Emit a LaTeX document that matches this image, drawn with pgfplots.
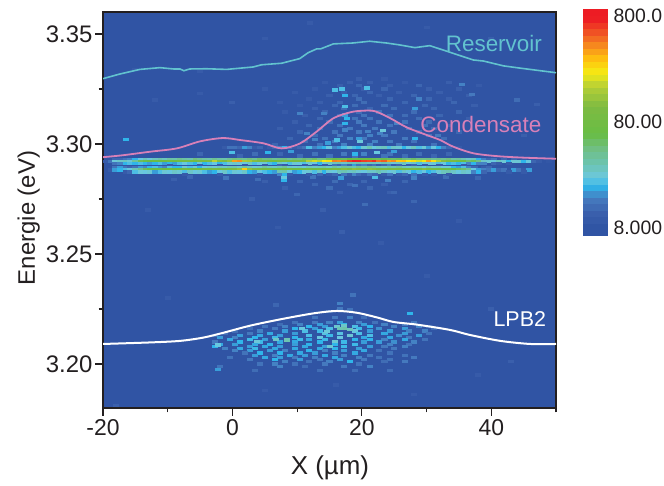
\documentclass[border=0pt]{standalone}
\usepackage{fontspec}
\setmainfont{Liberation Sans}
\usepackage{pgfplots}
\usepackage{pgfplotstable}
\pgfplotsset{compat=1.18}
\definecolor{axisdark}{HTML}{231F20}
\definecolor{bgblue}{HTML}{3054A4}
\definecolor{resv}{HTML}{62C3CF}
\definecolor{cond}{HTML}{D880B8}
\pgfplotsset{
 colormap={origin}{
  rgb255(0)=(48,84,164) rgb255(4)=(48,84,164) rgb255(10)=(58,95,172) rgb255(17)=(70,125,192) rgb255(22)=(47,181,234)
  rgb255(26)=(108,200,222) rgb255(32)=(108,196,176) rgb255(39)=(112,191,128) rgb255(45)=(104,189,69)
  rgb255(57)=(125,187,66) rgb255(66)=(181,207,54) rgb255(72)=(244,235,20) rgb255(78)=(255,194,14)
  rgb255(83)=(247,148,29) rgb255(89)=(241,90,36) rgb255(96)=(237,28,36) rgb255(100)=(237,28,36)},
 cell/.style={only marks, scatter, mark=square*, mark size=1.15bp,
  mark options={xscale=2.2,line width=0pt},
  scatter/use mapped color={draw=mapped color,fill=mapped color},
  restrict expr to domain={\thisrow{#1}}{8.5:2000},
  point meta={log10(\thisrow{#1})}},
}
\pgfplotstableread{
x g a b c h d e f i
-19.6 8 8 10 8 8 8 8 8 8
-18.8 8 8 14 8 8 8 10 8 8
-18.1 8 12 25 14 8 14 18 8 8
-17.3 8 12 28 16 8 18 20 8 8
-16.5 8 14 30 20 8 14 22 10 8
-15.8 8 16 26 22 8 12 24 12 8
-15.0 8 20 38 20 8 14 32 22 8
-14.2 8 24 55 22 8 18 42 25 8
-13.4 8 30 60 20 8 16 55 24 8
-12.7 8 26 62 18 8 20 60 26 8
-11.9 8 30 70 20 8 22 62 18 8
-11.1 8 34 65 22 8 18 60 22 8
-10.4 8 30 72 18 8 16 65 26 8
-9.6 8 36 78 20 10 22 70 24 8
-8.8 8 34 70 18 8 20 62 28 8
-8.1 8 40 80 22 8 20 70 26 8
-7.3 8 36 85 24 8 26 80 22 10
-6.5 8 34 90 22 8 22 75 28 8
-5.7 8 46 85 20 8 26 72 24 8
-5.0 8 40 95 24 10 20 80 26 8
-4.2 8 36 100 20 8 24 85 22 8
-3.4 8 34 110 22 8 28 78 18 8
-2.7 8 40 180 24 8 26 90 20 8
-1.9 8 36 120 20 10 30 85 24 10
-1.1 10 34 110 22 8 28 80 28 8
-0.4 14 40 130 26 8 32 95 22 8
0.4 14 46 380 28 8 32 110 26 8
1.2 12 44 420 26 8 28 130 24 8
1.9 18 40 160 24 10 36 300 28 8
2.7 16 46 150 28 8 30 130 20 8
3.5 10 40 120 22 8 26 100 18 8
4.2 12 50 110 24 8 28 90 24 10
5.0 8 44 105 26 10 36 80 22 8
5.8 10 46 90 22 8 30 85 20 8
6.6 12 40 85 20 8 28 70 18 8
7.3 16 44 90 28 12 32 75 32 16
8.1 20 46 95 24 10 38 80 34 20
8.9 14 40 100 22 8 28 85 24 10
9.6 10 46 95 26 8 26 70 18 8
10.4 12 44 100 24 8 28 75 20 8
11.2 14 50 110 22 10 24 72 24 8
11.9 22 46 170 26 8 30 80 26 10
12.7 16 52 200 24 12 28 70 22 8
13.5 18 44 180 20 8 30 85 28 12
14.3 20 46 240 26 10 32 78 20 8
15.0 24 55 260 28 8 28 90 26 10
15.8 16 60 450 30 14 36 110 24 12
16.6 18 58 420 32 12 30 100 30 8
17.3 22 55 500 28 16 38 120 32 14
18.1 26 62 650 32 12 36 110 28 10
18.9 22 60 780 30 18 32 130 30 16
19.6 20 65 740 34 14 40 120 26 12
20.4 26 68 640 32 16 36 115 24 10
21.2 32 62 600 30 12 42 130 28 14
22.0 24 58 700 30 14 38 120 28 12
22.7 28 55 480 28 10 32 100 32 8
23.5 30 60 540 32 12 30 110 28 10
24.3 22 55 380 30 16 36 95 24 14
25.0 28 52 420 26 10 32 105 26 8
25.8 26 55 300 28 12 38 100 22 10
26.6 20 48 320 30 8 30 90 28 12
27.3 24 46 240 24 10 28 95 24 8
28.1 30 52 260 28 12 32 105 20 14
28.9 22 46 200 22 8 30 85 22 8
29.7 26 44 230 26 10 24 120 24 10
30.4 18 46 380 24 8 34 100 20 8
31.2 24 40 260 26 8 28 90 22 10
32.0 20 44 170 22 10 30 80 26 8
32.7 16 40 120 24 8 24 70 30 8
33.5 12 46 110 20 8 26 60 32 10
34.3 8 36 105 22 8 20 62 28 8
35.0 10 38 85 20 8 18 55 24 8
35.8 8 32 75 22 10 22 50 28 8
36.6 8 28 50 16 8 16 40 26 8
37.4 8 30 55 20 8 12 24 16 8
38.1 8 20 45 16 8 8 18 20 8
38.9 8 16 28 16 8 10 16 12 8
39.7 8 12 26 8 8 12 14 8 8
40.4 8 14 24 12 8 8 18 8 8
41.2 8 8 30 10 8 8 12 8 8
42.0 8 12 26 8 8 8 14 8 8
42.7 8 8 20 10 8 8 8 10 8
43.5 8 12 26 8 8 8 18 8 8
44.3 8 8 26 8 8 8 14 8 8
45.1 8 10 20 8 8 8 10 10 8
45.8 8 8 24 8 8 8 18 8 8
46.6 8 8 12 8 8 8 8 8 8
47.4 8 8 10 8 8 8 8 8 8
48.1 8 8 8 8 8 8 8 8 8
48.9 8 8 9 8 8 8 8 8 8
49.7 8 8 8 8 8 8 8 8 8
}\band
\pgfplotstableread{
x y v
12.7 3.221 14
15.8 3.221 15
18.1 3.221 16
20.4 3.221 13
9.6 3.219 14
12.7 3.219 15
15.0 3.219 16
16.6 3.219 18
19.6 3.219 16
22.0 3.219 14
28.1 3.219 15
7.3 3.218 13
10.4 3.218 16
13.5 3.218 18
17.3 3.218 20
20.4 3.218 18
23.5 3.218 16
26.6 3.218 15
5.0 3.217 14
8.1 3.217 16
11.9 3.217 20
14.3 3.217 18
18.9 3.217 22
21.2 3.217 20
25.0 3.217 16
28.9 3.217 16
30.4 3.217 13
2.7 3.216 13
6.6 3.216 15
9.6 3.216 20
12.7 3.216 18
15.0 3.216 22
19.6 3.216 21
22.7 3.216 17
26.6 3.216 18
31.2 3.216 13
0.4 3.215 13
4.2 3.215 16
8.1 3.215 18
11.2 3.215 22
13.5 3.215 21
18.9 3.215 24
21.2 3.215 18
24.3 3.215 18
27.3 3.215 16
29.7 3.215 16
-1.1 3.214 13
2.7 3.214 15
5.8 3.214 19
9.6 3.214 18
14.3 3.214 23
16.6 3.214 23
19.6 3.214 22
23.5 3.214 19
26.6 3.214 18
30.4 3.214 14
-2.7 3.213 14
1.2 3.213 18
4.2 3.213 19
7.3 3.213 18
11.9 3.213 22
15.0 3.213 21
18.1 3.213 26
21.2 3.213 22
25.8 3.213 17
28.9 3.213 18
-1.9 3.212 18
0.4 3.212 16
3.5 3.212 20
6.6 3.212 21
9.6 3.212 20
13.5 3.212 24
16.6 3.212 24
20.4 3.212 19
24.3 3.212 19
27.3 3.212 15
-0.4 3.211 19
2.7 3.211 21
5.0 3.211 18
10.4 3.211 21
11.9 3.211 19
14.3 3.211 21
18.9 3.211 20
21.2 3.211 20
23.5 3.211 16
26.6 3.211 19
29.7 3.211 14
-2.7 3.210 15
1.2 3.210 20
4.2 3.210 21
7.3 3.210 19
9.6 3.210 19
13.5 3.210 20
17.3 3.210 21
20.4 3.210 18
22.7 3.210 18
25.0 3.210 17
28.1 3.210 16
-1.9 3.209 19
0.4 3.209 18
3.5 3.209 19
5.8 3.209 20
9.6 3.209 18
11.9 3.209 20
15.8 3.209 20
18.9 3.209 21
24.3 3.209 16
27.3 3.209 14
-2.7 3.208 20
2.7 3.208 18
5.0 3.208 19
7.3 3.208 18
11.2 3.208 19
14.3 3.208 18
17.3 3.208 21
21.2 3.208 18
23.5 3.208 15
26.6 3.208 16
-1.1 3.207 16
1.2 3.207 19
3.5 3.207 21
6.6 3.207 19
9.6 3.207 19
13.5 3.207 19
15.8 3.207 20
19.6 3.207 18
25.0 3.207 15
0.4 3.206 16
2.7 3.206 18
5.8 3.206 18
8.1 3.206 16
11.9 3.206 20
14.3 3.206 16
17.3 3.206 18
20.4 3.206 19
22.7 3.206 14
1.9 3.205 14
4.2 3.205 20
7.3 3.205 20
10.4 3.205 19
12.7 3.205 18
15.8 3.205 16
18.9 3.205 19
24.3 3.205 14
3.5 3.204 18
6.6 3.204 16
8.9 3.204 19
11.2 3.204 18
14.3 3.204 19
17.3 3.204 16
21.2 3.204 15
26.6 3.204 14
-0.4 3.203 14
5.0 3.203 19
7.3 3.203 18
9.6 3.203 15
12.7 3.203 16
15.8 3.203 19
19.6 3.203 16
22.7 3.203 14
28.1 3.203 15
2.7 3.202 15
6.6 3.202 20
10.4 3.202 18
13.5 3.202 15
16.6 3.202 18
20.4 3.202 15
24.3 3.202 14
8.1 3.201 16
11.9 3.201 14
15.0 3.201 16
18.1 3.201 20
23.5 3.201 13
26.6 3.201 15
4.2 3.200 14
6.6 3.200 16
9.6 3.200 14
14.3 3.200 15
19.6 3.200 14
-1.9 3.199 14
7.3 3.199 16
11.2 3.199 13
17.3 3.199 15
21.2 3.199 16
3.5 3.197 13
13.5 3.197 13
18.9 3.197 13
24.3 3.197 13
8.4 3.2109 32
15.1 3.2081 26
17.2 3.2162 34
18.2 3.2157 30
16.1 3.2169 27
16.6 3.2162 32
17.2 3.2175 28
10.7 3.2162 24
14.6 3.2147 25
6.8 3.2112 28
15.9 3.2101 26
3.8 3.2101 25
-2.2 3.2086 24
-2.2 3.1975 18
18.7 3.2313 14
16.6 3.2275 16
16.6 3.2250 15
18.1 3.2245 14
15.0 3.2240 13
6.8 3.2268 12
27.5 3.2230 20
19.6 3.3295 11
23.5 3.3295 10
14.3 3.328 10
18.1 3.328 11
21.2 3.328 11
26.6 3.328 10
33.5 3.328 11
16.6 3.3265 11
19.6 3.3265 12
24.3 3.3265 11
28.9 3.3265 12
38.1 3.3265 10
12.7 3.325 10
20.4 3.325 11
23.5 3.325 12
30.4 3.325 11
35.0 3.325 11
9.6 3.3235 10
17.3 3.3235 11
21.2 3.3235 12
25.8 3.3235 11
32.0 3.3235 11
15.0 3.322 11
18.9 3.322 12
22.7 3.322 11
28.1 3.322 12
36.6 3.322 11
11.9 3.3205 10
19.6 3.3205 13
24.3 3.3205 12
30.4 3.3205 12
33.5 3.3205 11
7.3 3.319 10
13.5 3.319 11
16.6 3.319 12
20.4 3.319 13
26.6 3.319 12
34.3 3.319 12
10.4 3.3175 10
15.8 3.3175 12
18.9 3.3175 13
23.5 3.3175 13
29.7 3.3175 12
37.4 3.3175 11
12.7 3.316 11
17.3 3.316 13
21.2 3.316 12
25.0 3.316 13
31.2 3.316 12
8.1 3.3145 10
14.3 3.3145 12
19.6 3.3145 13
22.7 3.3145 14
28.1 3.3145 13
35.0 3.3145 12
11.2 3.313 11
16.6 3.313 13
20.4 3.313 14
24.3 3.313 14
26.6 3.313 13
32.0 3.313 12
13.5 3.3115 12
18.9 3.3115 14
21.2 3.3115 14
28.9 3.3115 13
36.6 3.3115 11
9.6 3.310 11
15.0 3.310 13
19.6 3.310 15
22.7 3.310 14
26.6 3.310 14
30.4 3.310 13
11.9 3.3085 12
16.6 3.3085 14
20.4 3.3085 15
24.3 3.3085 14
29.7 3.3085 14
33.5 3.3085 12
7.3 3.307 11
13.5 3.307 13
18.1 3.307 15
22.0 3.307 15
27.3 3.307 14
31.2 3.307 13
10.4 3.3055 12
15.8 3.3055 14
19.6 3.3055 15
25.0 3.3055 15
28.9 3.3055 13
35.0 3.3055 12
12.7 3.304 13
16.6 3.304 15
21.2 3.304 16
23.5 3.304 15
30.4 3.304 14
8.9 3.3025 12
14.3 3.3025 14
18.1 3.3025 16
20.4 3.3025 15
26.6 3.3025 15
32.7 3.3025 13
11.2 3.301 13
15.8 3.301 15
22.0 3.301 16
24.3 3.301 15
28.1 3.301 14
6.6 3.2995 12
13.5 3.2995 14
17.3 3.2995 16
21.2 3.2995 16
25.8 3.2995 15
31.2 3.2995 14
-5.0 3.2955 12
3.5 3.2955 13
7.3 3.2955 12
12.7 3.2955 14
17.3 3.2955 15
20.4 3.2955 16
24.3 3.2955 14
28.9 3.2955 13
33.5 3.2955 12
1.2 3.2945 12
10.4 3.2945 13
15.0 3.2945 14
18.9 3.2945 14
23.5 3.2945 14
26.6 3.2945 13
31.2 3.2945 12
5.0 3.283 11
10.4 3.283 12
15.8 3.283 13
20.4 3.283 12
26.6 3.283 12
12.7 3.2815 12
18.1 3.2815 12
23.5 3.2815 11
8.1 3.280 11
21.2 3.280 12
16.6 3.278 11
24.3 3.278 11
15.9 3.3245 22
17.4 3.3222 20
17.4 3.3172 22
17.4 3.3132 18
17.7 3.3116 20
19.7 3.3010 25
23.3 3.3060 25
21.0 3.3056 16
22.8 3.3048 16
17.4 3.3063 16
17.4 3.3093 20
19.5 3.3025 18
16.1 3.3018 22
11.5 3.3048 16
14.1 3.3139 16
28.2 3.3162 18
28.2 3.3025 20
10.5 3.3139 16
25.4 3.3093 16
20.8 3.3255 22
17.0 3.3250 22
28.8 3.3205 16
35.5 3.3270 16
37.0 3.3225 15
31.8 3.3040 15
-16.5 3.3020 20
12.8 3.3022 16
14.7 3.3005 18
22.3 3.2960 24
19.0 3.2955 20
9.0 3.2965 18
0.0 3.2960 22
5.5 3.2960 20
25.0 3.2965 18
8.0 3.2845 24
8.0 3.2835 20
12.5 3.2850 14
16.8 3.2845 18
22.0 3.2850 22
24.0 3.2835 16
28.0 3.2845 16
4.0 3.2840 13
-1.0 3.2845 14
-6.5 3.2850 12
33.0 3.2850 13
38.0 3.2845 12
-9.0 3.2840 11
19.0 3.2810 14
15.0 3.2800 13
25.0 3.2780 12
10.0 3.2770 12
20.5 3.2725 13
14.0 3.2700 11
28.0 3.2740 12
3.0 3.2750 11
-15.0 3.3340 10
-5.0 3.3330 10
5.0 3.3480 10
12.0 3.3550 10
30.0 3.3530 10
40.0 3.3480 11
-12.0 3.3200 10
5.0 3.3250 10
0.0 3.3190 11
-5.0 3.3230 10
44.0 3.3200 13
47.0 3.3180 11
42.0 3.3090 12
45.0 3.3040 11
-13.0 3.2700 10
35.0 3.2650 10
17.0 3.2600 11
7.0 3.2620 10
23.0 3.2550 10
30.0 3.2400 10
-10.0 3.2300 10
40.0 3.2250 11
43.0 3.2010 11
38.0 3.1950 10
5.0 3.1880 10
16.0 3.1905 10
28.0 3.1860 10
-18.0 3.1810 11
}\speck
\begin{document}
\begin{tikzpicture}[x=1bp,y=1bp]
\path[use as bounding box] (0,0) rectangle (664,486);
\begin{axis}[
 at={(103bp,78bp)}, anchor=south west, scale only axis, width=453bp, height=396bp,
 xmin=-20, xmax=50, ymin=3.18, ymax=3.36,
 axis background/.style={fill=bgblue},
 axis line style={axisdark,line width=1.2bp},
 tick style={axisdark,line width=1.1bp},
 tick align=outside, xtick pos=bottom, ytick pos=left,
 major tick length=8bp, minor tick length=4.5bp,
 xtick={-20,0,20,40}, minor xtick={-10,10,30,50},
 ytick={3.20,3.25,3.30,3.35}, minor ytick={3.225,3.275,3.325},
 xticklabel style={font=\fontsize{23}{23}\selectfont,text=axisdark},
 /pgf/number format/assume math mode=true,
 yticklabel style={font=\fontsize{24}{24}\selectfont,text=axisdark,/pgf/number format/fixed,/pgf/number format/precision=2,/pgf/number format/fixed zerofill,xshift=1bp},
 xlabel={X (µm)}, ylabel={Energie (eV)},
 xlabel style={font=\fontsize{26}{26}\selectfont,text=axisdark,at={(axis description cs:0.501,-0.152)},anchor=center},
 ylabel style={font=\fontsize{24}{24}\selectfont,text=axisdark,at={(axis description cs:-0.164,0.48)},anchor=center},
 colormap name=origin,
 point meta min=0.83, point meta max=2.97,
 colorbar sampled,
 colorbar style={at={(1.0596,1.0076)},anchor=north west,width=25bp,height=227bp,
   samples=36,
   ytick={0.903,1.903,2.903},yticklabels={8.000,80.00,800.0},
   yticklabel pos=right, major tick length=0pt,
   axis line style={draw=none},
   tick style={draw=none},
   yticklabel style={font=\fontsize{19.5}{19.5}\selectfont,text=axisdark,xshift=2bp},
 },
]
\addplot[cell=v] table[x=x,y=y] {\speck};
\addplot[cell=g] table[x=x,y expr=3.2983] {\band};
\addplot[cell=a] table[x=x,y expr=3.2930] {\band};
\addplot[cell=b] table[x=x,y expr=3.2920] {\band};
\addplot[cell=c] table[x=x,y expr=3.2910] {\band};
\addplot[cell=h] table[x=x,y expr=3.2900] {\band};
\addplot[cell=d] table[x=x,y expr=3.2892] {\band};
\addplot[cell=e] table[x=x,y expr=3.2882] {\band};
\addplot[cell=f] table[x=x,y expr=3.2873] {\band};
\addplot[cell=i] table[x=x,y expr=3.2862] {\band};
\end{axis}
\begin{axis}[
 at={(103bp,78bp)}, anchor=south west, scale only axis, width=453bp, height=396bp,
 xmin=-20, xmax=50, ymin=3.18, ymax=3.36, hide axis,
]
\addplot[resv,line width=1.6bp,no marks] coordinates {
(-20,3.3297)(-17.4,3.3318)(-14.3,3.3339)(-11.2,3.3347)(-9.1,3.3341)(-8.1,3.3341)(-7.5,3.3333)(-6.6,3.3341)(-4.0,3.3342)(-0.9,3.3339)(3.2,3.3350)(4.5,3.3360)(7.6,3.3367)(10.4,3.3388)(11.7,3.3415)(13.0,3.3432)(13.6,3.3432)(15.6,3.3455)(18.6,3.3459)(21.2,3.3467)(23.8,3.3459)(25.9,3.3450)(28.2,3.3438)(30.5,3.3447)(33.6,3.3417)(37.2,3.3382)(38.8,3.3377)(41.9,3.3355)(44.4,3.3345)(50,3.3324)};
\addplot[cond,line width=1.8bp,no marks,smooth] coordinates {
(-20,3.2940)(-16.9,3.2949)(-12.7,3.2965)(-8.6,3.2980)(-5.0,3.3012)(-1.5,3.3027)(1.2,3.3018)(4.8,3.3003)(7.6,3.2980)(10.4,3.3002)(13.0,3.3056)(15.6,3.3117)(18.2,3.3144)(20,3.3151)(22,3.3149)(24.4,3.3117)(26.9,3.3076)(30.0,3.3041)(32.1,3.3018)(34.1,3.2988)(37.2,3.2958)(40.8,3.2945)(44.9,3.2938)(50,3.2933)};
\addplot[white,line width=2bp,no marks,smooth] coordinates {
(-20,3.2091)(-12.7,3.2098)(-8.1,3.2105)(-4.5,3.2120)(-1.4,3.2142)(2.7,3.2174)(7.4,3.2203)(12.5,3.2230)(16.1,3.2241)(19.2,3.2233)(22.3,3.2212)(24.9,3.2191)(28.5,3.2179)(33.6,3.2155)(36.7,3.2132)(41.4,3.2105)(46,3.2091)(50,3.2091)};
\node[text=resv,font=\fontsize{22.5}{22.5}\selectfont] at (axis cs:40.4,3.3459) {Reservoir};
\node[text=cond,font=\fontsize{22.5}{22.5}\selectfont] at (axis cs:38.4,3.3089) {Condensate};
\node[text=white,font=\fontsize{21.5}{21.5}\selectfont] at (axis cs:44.4,3.2205) {LPB2};
\end{axis}
\end{tikzpicture}
\end{document}
